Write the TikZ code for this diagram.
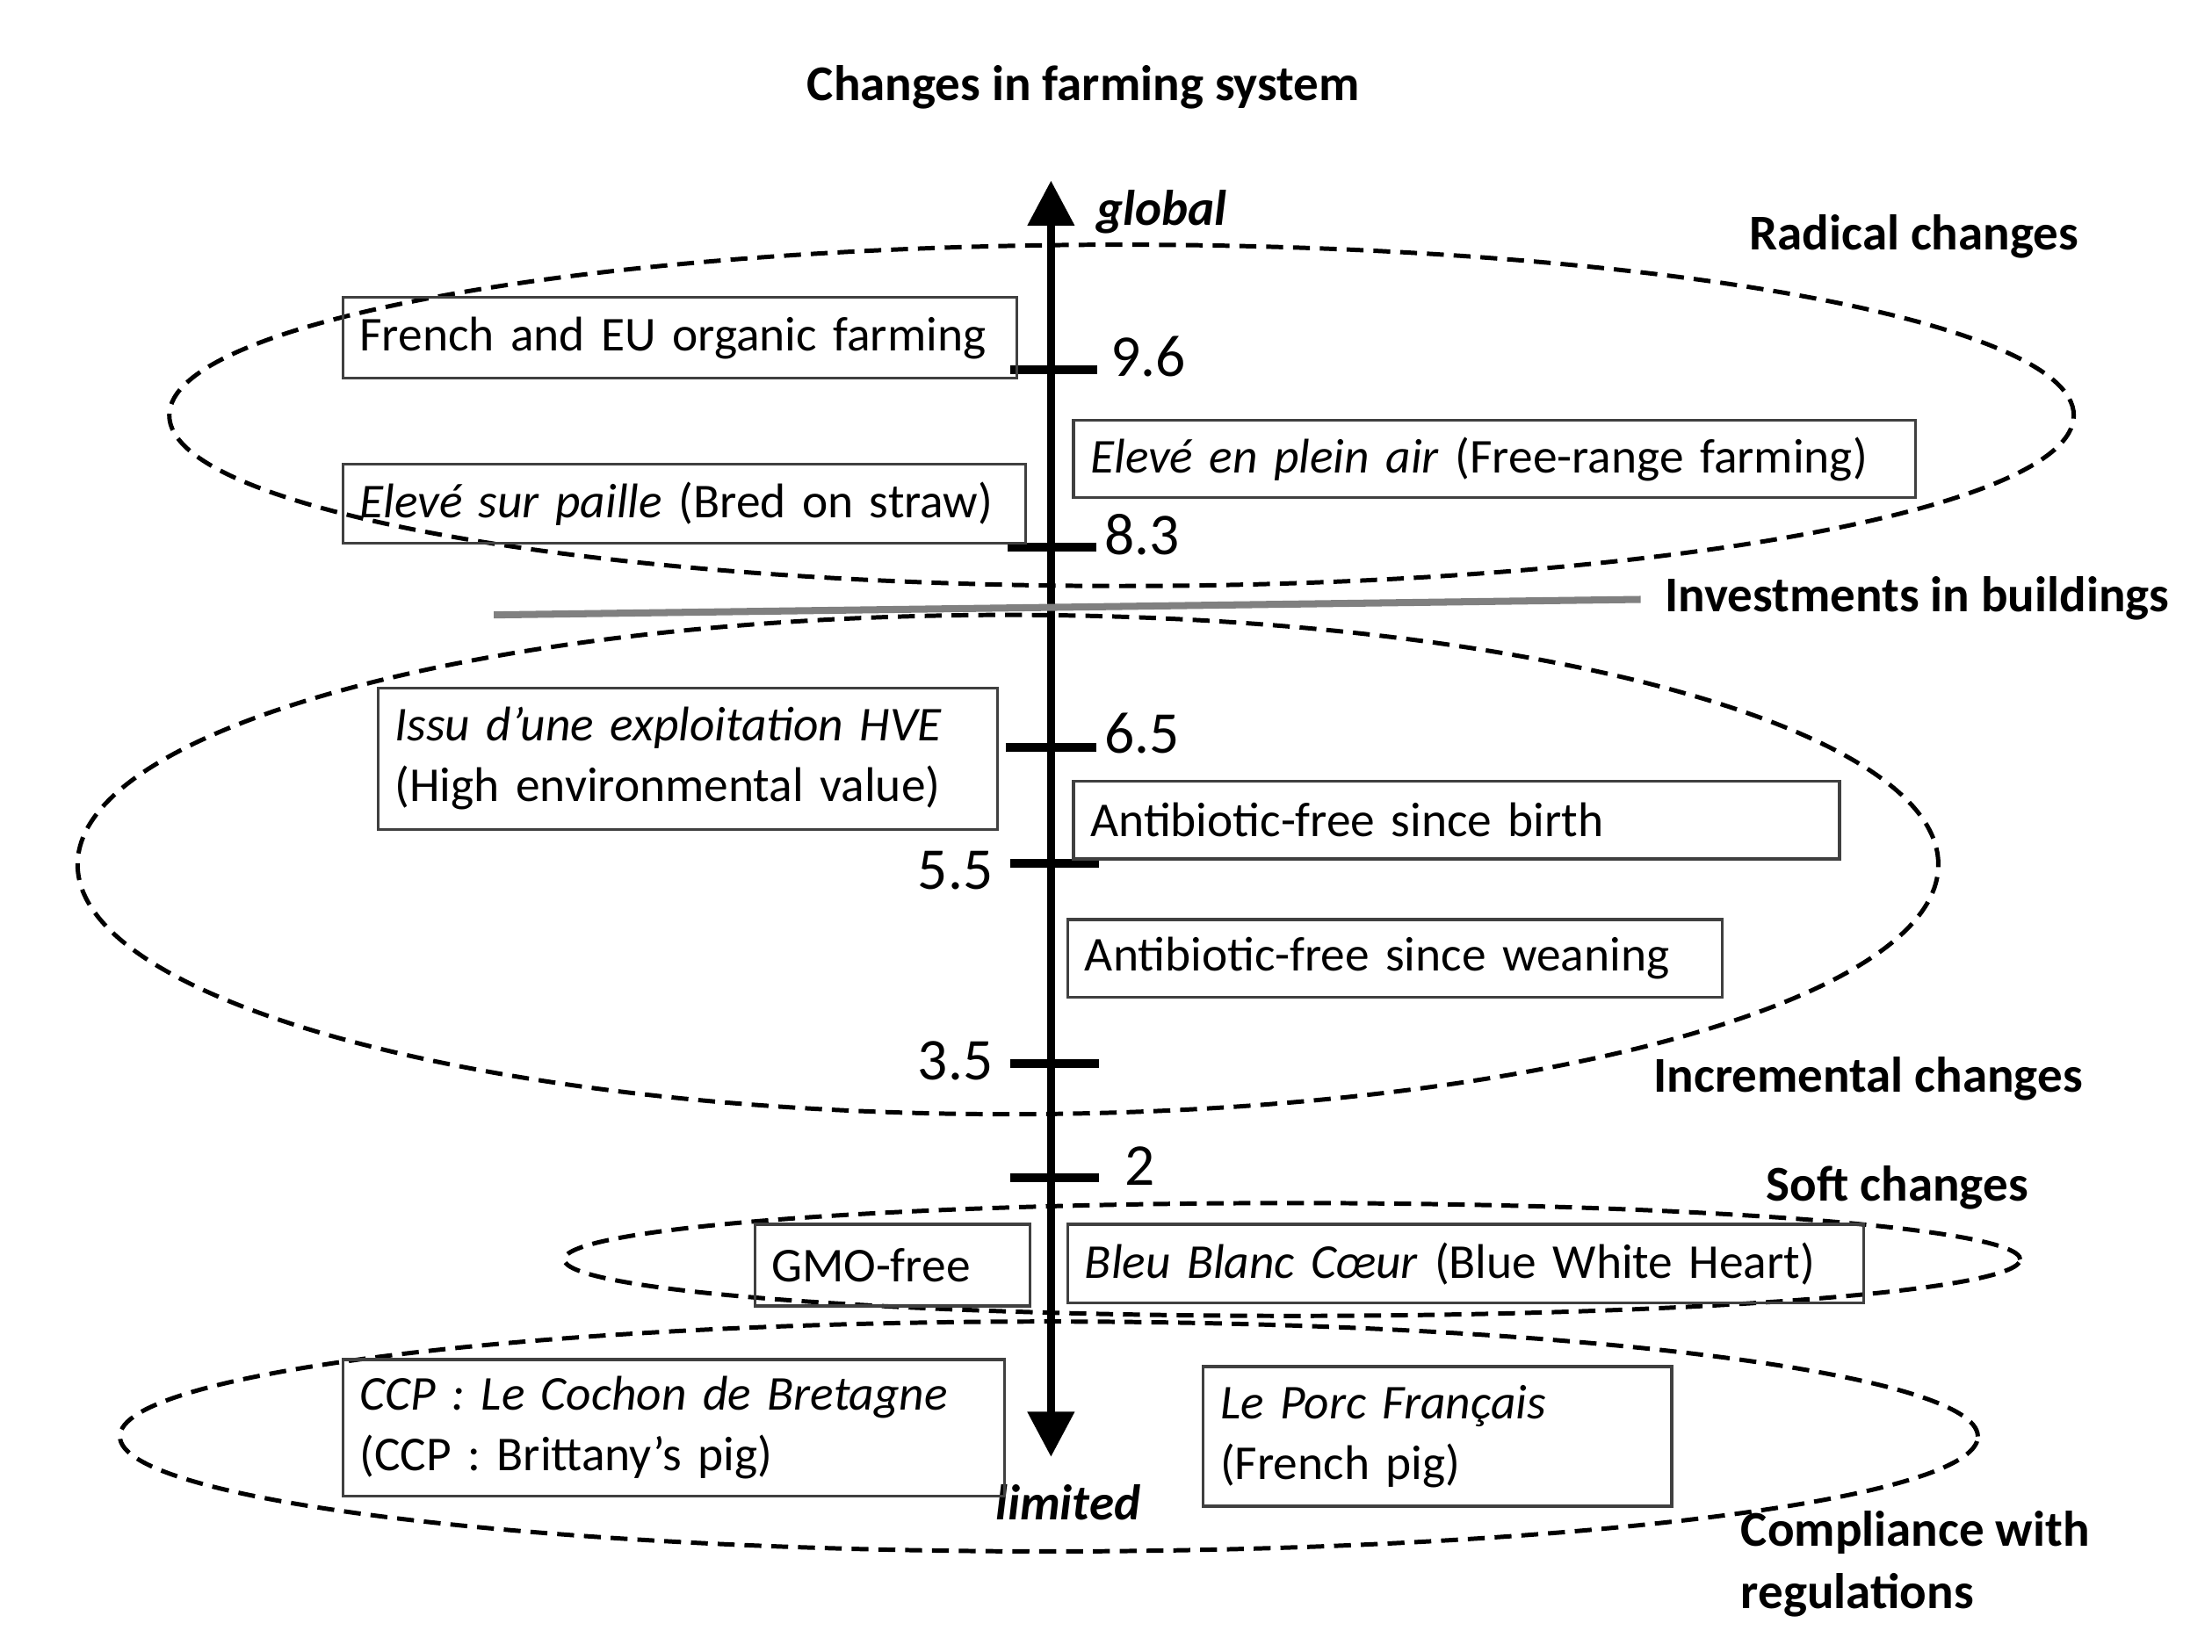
\documentclass[tikz,border=0pt]{standalone}
\usepackage{fontspec}
\setmainfont{Carlito}
\usetikzlibrary{arrows.meta,shapes.geometric}
\begin{document}
\begin{tikzpicture}[x=1pt,y=-1pt,
  box/.style={draw=black!75, line width=2pt, rectangle, anchor=north west, inner xsep=12pt, inner ysep=0pt, align=left, font=\fontsize{34.5}{43}\selectfont},
  zone/.style={draw=black, line width=3.1pt, dash pattern=on 12pt off 7pt, ellipse, inner sep=0pt},
  lbl/.style={font=\fontsize{35.5}{44}\selectfont\bfseries, anchor=west, inner sep=0pt, align=left},
  tickmark/.style={line width=6.5pt},
  num/.style={font=\fontsize{42}{48}\selectfont, inner sep=0pt}
]
\useasboundingbox (0,0) rectangle (1568,1171.3);

% zones
\node[zone, minimum width=1350pt, minimum height=242pt] (radical) at (795,294.5) {};
\node[zone, minimum width=1319pt, minimum height=354pt] (incremental) at (714.5,613) {};
\node[zone, minimum width=1032pt, minimum height=80pt] (soft) at (916,893) {};
\node[zone, minimum width=1317pt, minimum height=163pt] (compliance) at (743.5,1018.5) {};

% title
\node[lbl, anchor=center] (title) at (768,62) {Changes in farming system};

% axis
\coordinate (axtop) at (745,128);
\coordinate (axbot) at (745,1033);
\draw[line width=6pt, {Triangle[length=32pt,width=32pt]}-{Triangle[length=32pt,width=32pt]}] (axbot) -- (axtop);
\node[lbl, font=\fontsize{35.5}{44}\selectfont\bfseries\itshape] (global) at (777,150) {global};
\node[lbl, anchor=center, font=\fontsize{35.5}{44}\selectfont\bfseries\itshape] (limited) at (757,1065) {limited};

% ticks
\draw[tickmark] (716,262) -- (778,262);
\draw[tickmark] (714,388) -- (777,388);
\draw[tickmark] (713,530) -- (777,530);
\draw[tickmark] (716,612) -- (779,612);
\draw[tickmark] (716,754) -- (779,754);
\draw[tickmark] (716,835) -- (779,835);
\node[num, anchor=west] (n96) at (787,253) {9.6};
\node[num, anchor=west] (n83) at (783,379) {8.3};
\node[num, anchor=west] (n65) at (783,520) {6.5};
\node[num, anchor=east] (n55) at (704,617) {5.5};
\node[num, anchor=east] (n35) at (704,752) {3.5};
\node[num, anchor=west] (n2) at (797,827) {2};

% boxes
\node[box, minimum width=478pt, minimum height=57pt, text width=454pt] (organic) at (242,210) {\mbox{French and EU organic farming}};
\node[box, minimum width=597pt, minimum height=55pt, text width=573pt] (pleinair) at (760,297) {\mbox{\textit{Elevé en plein air} (Free-range farming)}};
\node[box, minimum width=484pt, minimum height=56pt, text width=460pt] (paille) at (242,328) {\mbox{\textit{Elevé sur paille} (Bred on straw)}};
\node[box, minimum width=439pt, minimum height=100pt, text width=415pt] (hve) at (267,487) {\mbox{\textit{Issu d’une exploitation HVE}}\\\mbox{(High environmental value)}};
\node[box, minimum width=543pt, minimum height=55pt, text width=519pt] (birth) at (760,553) {\mbox{Antibiotic-free since birth}};
\node[box, minimum width=464pt, minimum height=55pt, text width=440pt] (weaning) at (756,651) {\mbox{Antibiotic-free since weaning}};
\node[box, minimum width=195pt, minimum height=58pt, text width=171pt] (gmo) at (534,867) {\mbox{GMO-free}};
\node[box, minimum width=564pt, minimum height=56pt, text width=540pt] (bbc) at (756,867) {\mbox{\textit{Bleu Blanc Cœur} (Blue White Heart)}};
\node[box, minimum width=469pt, minimum height=97pt, text width=445pt] (ccp) at (242,963) {\mbox{\textit{CCP : Le Cochon de Bretagne}}\\\mbox{(CCP : Brittany’s pig)}};
\node[box, minimum width=332pt, minimum height=99pt, text width=308pt] (porc) at (852,968) {\mbox{\textit{Le Porc Français}}\\\mbox{(French pig)}};

% zone labels
\node[lbl] (lradical) at (1240,168) {Radical changes};
\node[lbl] (invest) at (1180,424) {Investments in buildings};
\coordinate (gl) at (350,436);
\draw[line width=5pt, draw=black!50] (gl) -- ([xshift=-17pt,yshift=-1pt]invest.west);
\node[lbl] (lincr) at (1172,765) {Incremental changes};
\node[lbl] (lsoft) at (1252,842) {Soft changes};
\node[lbl] (lcomp) at (1234,1109) {Compliance with\\regulations};
\end{tikzpicture}
\end{document}
